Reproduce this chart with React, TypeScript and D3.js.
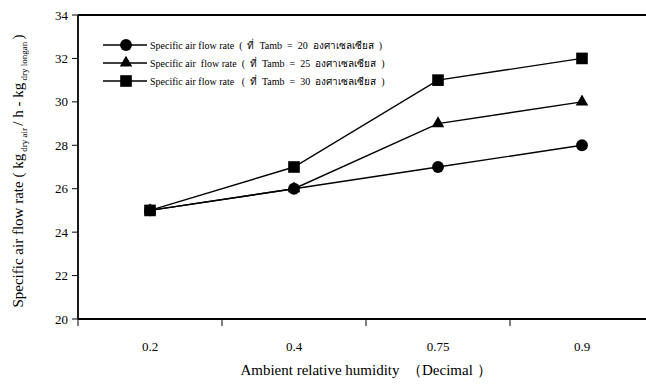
import React from "react";
import * as d3 from "d3";

// chart data
const humidity = ["0.2", "0.4", "0.75", "0.9"];
const flowAt20 = [25, 26, 27, 28];
const flowAt25 = [25, 26, 29, 30];
const flowAt30 = [25, 27, 31, 32];
const yTicks = [20, 22, 24, 26, 28, 30, 32, 34];
const legendLabels = [
  "Specific air flow rate  (  ที่  Tamb  =  20  องศาเซลเซียส  )",
  "Specific air  flow rate  (  ที่  Tamb  =  25  องศาเซลเซียส  )",
  "Specific air flow rate   (  ที่  Tamb  =  30  องศาเซลเซียส  )",
];

const width = 646;
const height = 385;
const left = 78;
const right = 654; // plot box runs past the cropped right edge
const top = 15;
const bottom = 319;
const font = "'Liberation Serif', 'Times New Roman', serif";

const series = [
  { values: flowAt30, symbol: d3.symbolSquare, size: 135 },
  { values: flowAt25, symbol: d3.symbolTriangle, size: 68 },
  { values: flowAt20, symbol: d3.symbolCircle, size: 110 },
];

export default function App() {
  const x = d3.scaleBand<string>().domain(humidity).range([left, right]);
  const y = d3.scaleLinear().domain([20, 34]).range([bottom, top]);
  const cx = (i: number) => (x(humidity[i]) as number) + x.bandwidth() / 2;
  const line = d3
    .line<number>()
    .x((d, i) => cx(i))
    .y((d) => y(d));

  // legend goes in the same order as the labels: circle, triangle, square
  const legendSeries = [series[2], series[1], series[0]];

  return (
    <svg
      width={width}
      height={height}
      style={{ position: "absolute", left: 0, top: 0, background: "#fff" }}
      fontFamily={font}
    >
      {/* plot box */}
      <line x1={left} x2={right} y1={top} y2={top} stroke="#000" strokeWidth={1.8} />
      <line x1={left} x2={right} y1={bottom} y2={bottom} stroke="#000" strokeWidth={1.8} />
      <line x1={left} x2={left} y1={top} y2={bottom} stroke="#000" strokeWidth={1.8} />

      {/* y axis */}
      {yTicks.map((t) => (
        <g key={t}>
          <line x1={left - 6} x2={left} y1={y(t)} y2={y(t)} stroke="#000" strokeWidth={1} />
          <text x={left - 10} y={y(t)} dy="0.35em" textAnchor="end" fontSize={13}>
            {t}
          </text>
        </g>
      ))}

      {/* x axis: ticks on band edges, labels in the middle */}
      {humidity.map((h, i) => (
        <g key={h}>
          <line
            x1={x(h) as number}
            x2={x(h) as number}
            y1={bottom}
            y2={bottom + 7}
            stroke="#000"
            strokeWidth={1}
          />
          <text x={cx(i)} y={bottom + 32} textAnchor="middle" fontSize={13}>
            {h}
          </text>
        </g>
      ))}

      {/* lines and markers */}
      {series.map((s, k) => (
        <g key={k}>
          <path d={line(s.values) || ""} fill="none" stroke="#000" strokeWidth={1.4} />
          {s.values.map((v, i) => (
            <path
              key={i}
              transform={`translate(${cx(i)},${y(v)})`}
              d={d3.symbol(s.symbol, s.size)() || ""}
              fill="#000"
            />
          ))}
        </g>
      ))}

      {/* legend */}
      {legendSeries.map((s, i) => {
        const ly = 45 + i * 18;
        return (
          <g key={i}>
            <line x1={103} x2={147} y1={ly} y2={ly} stroke="#000" strokeWidth={1.4} />
            <path transform={`translate(126,${ly})`} d={d3.symbol(s.symbol, s.size)() || ""} fill="#000" />
            <text x={150} y={ly} dy="0.35em" fontSize={10} style={{ whiteSpace: "pre" }}>
              {legendLabels[i]}
            </text>
          </g>
        );
      })}

      {/* axis titles */}
      <text
        x={(left + right) / 2}
        y={bottom + 56}
        textAnchor="middle"
        fontSize={15}
        style={{ whiteSpace: "pre" }}
      >
        {"Ambient relative humidity  （Decimal ）"}
      </text>
      <text
        transform={`translate(23,${(top + bottom) / 2 + 4}) rotate(-90)`}
        textAnchor="middle"
        fontSize={15}
      >
        {"Specific air flow rate ( kg"}
        <tspan fontSize={9} dy={4}>{" dry air "}</tspan>
        <tspan dy={-4}>{"/ h - kg"}</tspan>
        <tspan fontSize={9} dy={4}>{" dry longan "}</tspan>
        <tspan dy={-4}>{")"}</tspan>
      </text>
    </svg>
  );
}
